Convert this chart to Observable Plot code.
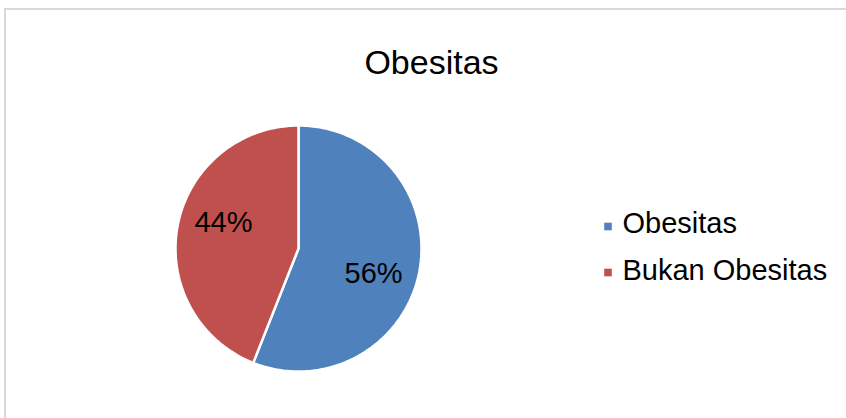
<!DOCTYPE html>
<html>
<head>
<meta charset="utf-8">
<script src="https://cdn.jsdelivr.net/npm/d3@7"></script>
<script src="https://cdn.jsdelivr.net/npm/@observablehq/plot@0.6"></script>
<style>
  html, body { margin: 0; padding: 0; background: #fff; }
  #wrap { position: relative; width: 846px; height: 418px; overflow: hidden; }
  #border { position: absolute; left: 4px; top: 8px; width: 900px; height: 500px;
            border-left: 2px solid #d9d9d9; border-top: 2px solid #d9d9d9; box-sizing: border-box; }
  #chart { position: absolute; left: 0; top: 0; }
</style>
</head>
<body>
<div id="wrap"><div id="border"></div><div id="chart"></div></div>
<script>
// ---- data ----
const title = "Obesitas";
const categories = ["Obesitas", "Bukan Obesitas"];
const values = [56, 44];
const colors = ["#4F81BD", "#C0504D"];

// ---- build slices ----
const total = d3.sum(values);
const arcs = d3.pie().sort(null)(values);
const pt = (a, r = 1) => [r * Math.sin(a), r * Math.cos(a)];
const slices = arcs.map((a, i) => {
  const n = Math.max(2, Math.ceil((a.endAngle - a.startAngle) / (Math.PI / 180)));
  const ring = [[0, 0]];
  for (let k = 0; k <= n; k++) ring.push(pt(a.startAngle + (a.endAngle - a.startAngle) * k / n));
  ring.push([0, 0]);
  return {type: "Feature", properties: {name: categories[i]}, geometry: {type: "Polygon", coordinates: [ring]}};
});
const labelOffset = 8 * Math.PI / 180;
const labels = arcs.map((a, i) => {
  const [x, y] = pt((a.startAngle + a.endAngle) / 2 + labelOffset, 0.645);
  return {x, y, text: Math.round(values[i] / total * 100) + "%"};
});
const domain = {type: "Feature", geometry: {type: "Polygon", coordinates: [[[-1, -1], [1, -1], [1, 1], [-1, 1], [-1, -1]]]}};

const font = "'Liberation Sans', Arial, sans-serif";
const legendMarks = categories.flatMap((c, i) => [
  Plot.dot([c], {frameAnchor: "left", dx: 432.5, dy: -22 + i * 46, symbol: "square", r: 4.3, fill: d => d, stroke: null}),
  Plot.text([c], {frameAnchor: "left", dx: 447, dy: -25 + i * 47, text: d => d, textAnchor: "start", fontSize: 29, fill: "#000"})
]);

const chart = Plot.plot({
  width: 846,
  height: 418,
  marginLeft: 175,
  marginRight: 425,
  marginTop: 125,
  marginBottom: 47,
  style: {fontFamily: font, background: "transparent"},
  projection: {type: "reflect-y", domain, inset: 0},
  color: {domain: categories, range: colors},
  marks: [
    Plot.geo(slices, {fill: d => d.properties.name, stroke: "#fff", strokeWidth: 2.5, strokeLinejoin: "miter"}),
    Plot.text(labels, {x: "x", y: "y", text: "text", fontSize: 29, fill: "#000"}),
    Plot.text([title], {frameAnchor: "top", dx: 133, dy: -76, text: d => d, fontSize: 34, fill: "#000"}),
    ...legendMarks
  ]
});
document.getElementById("chart").appendChild(chart);
</script>
</body>
</html>
